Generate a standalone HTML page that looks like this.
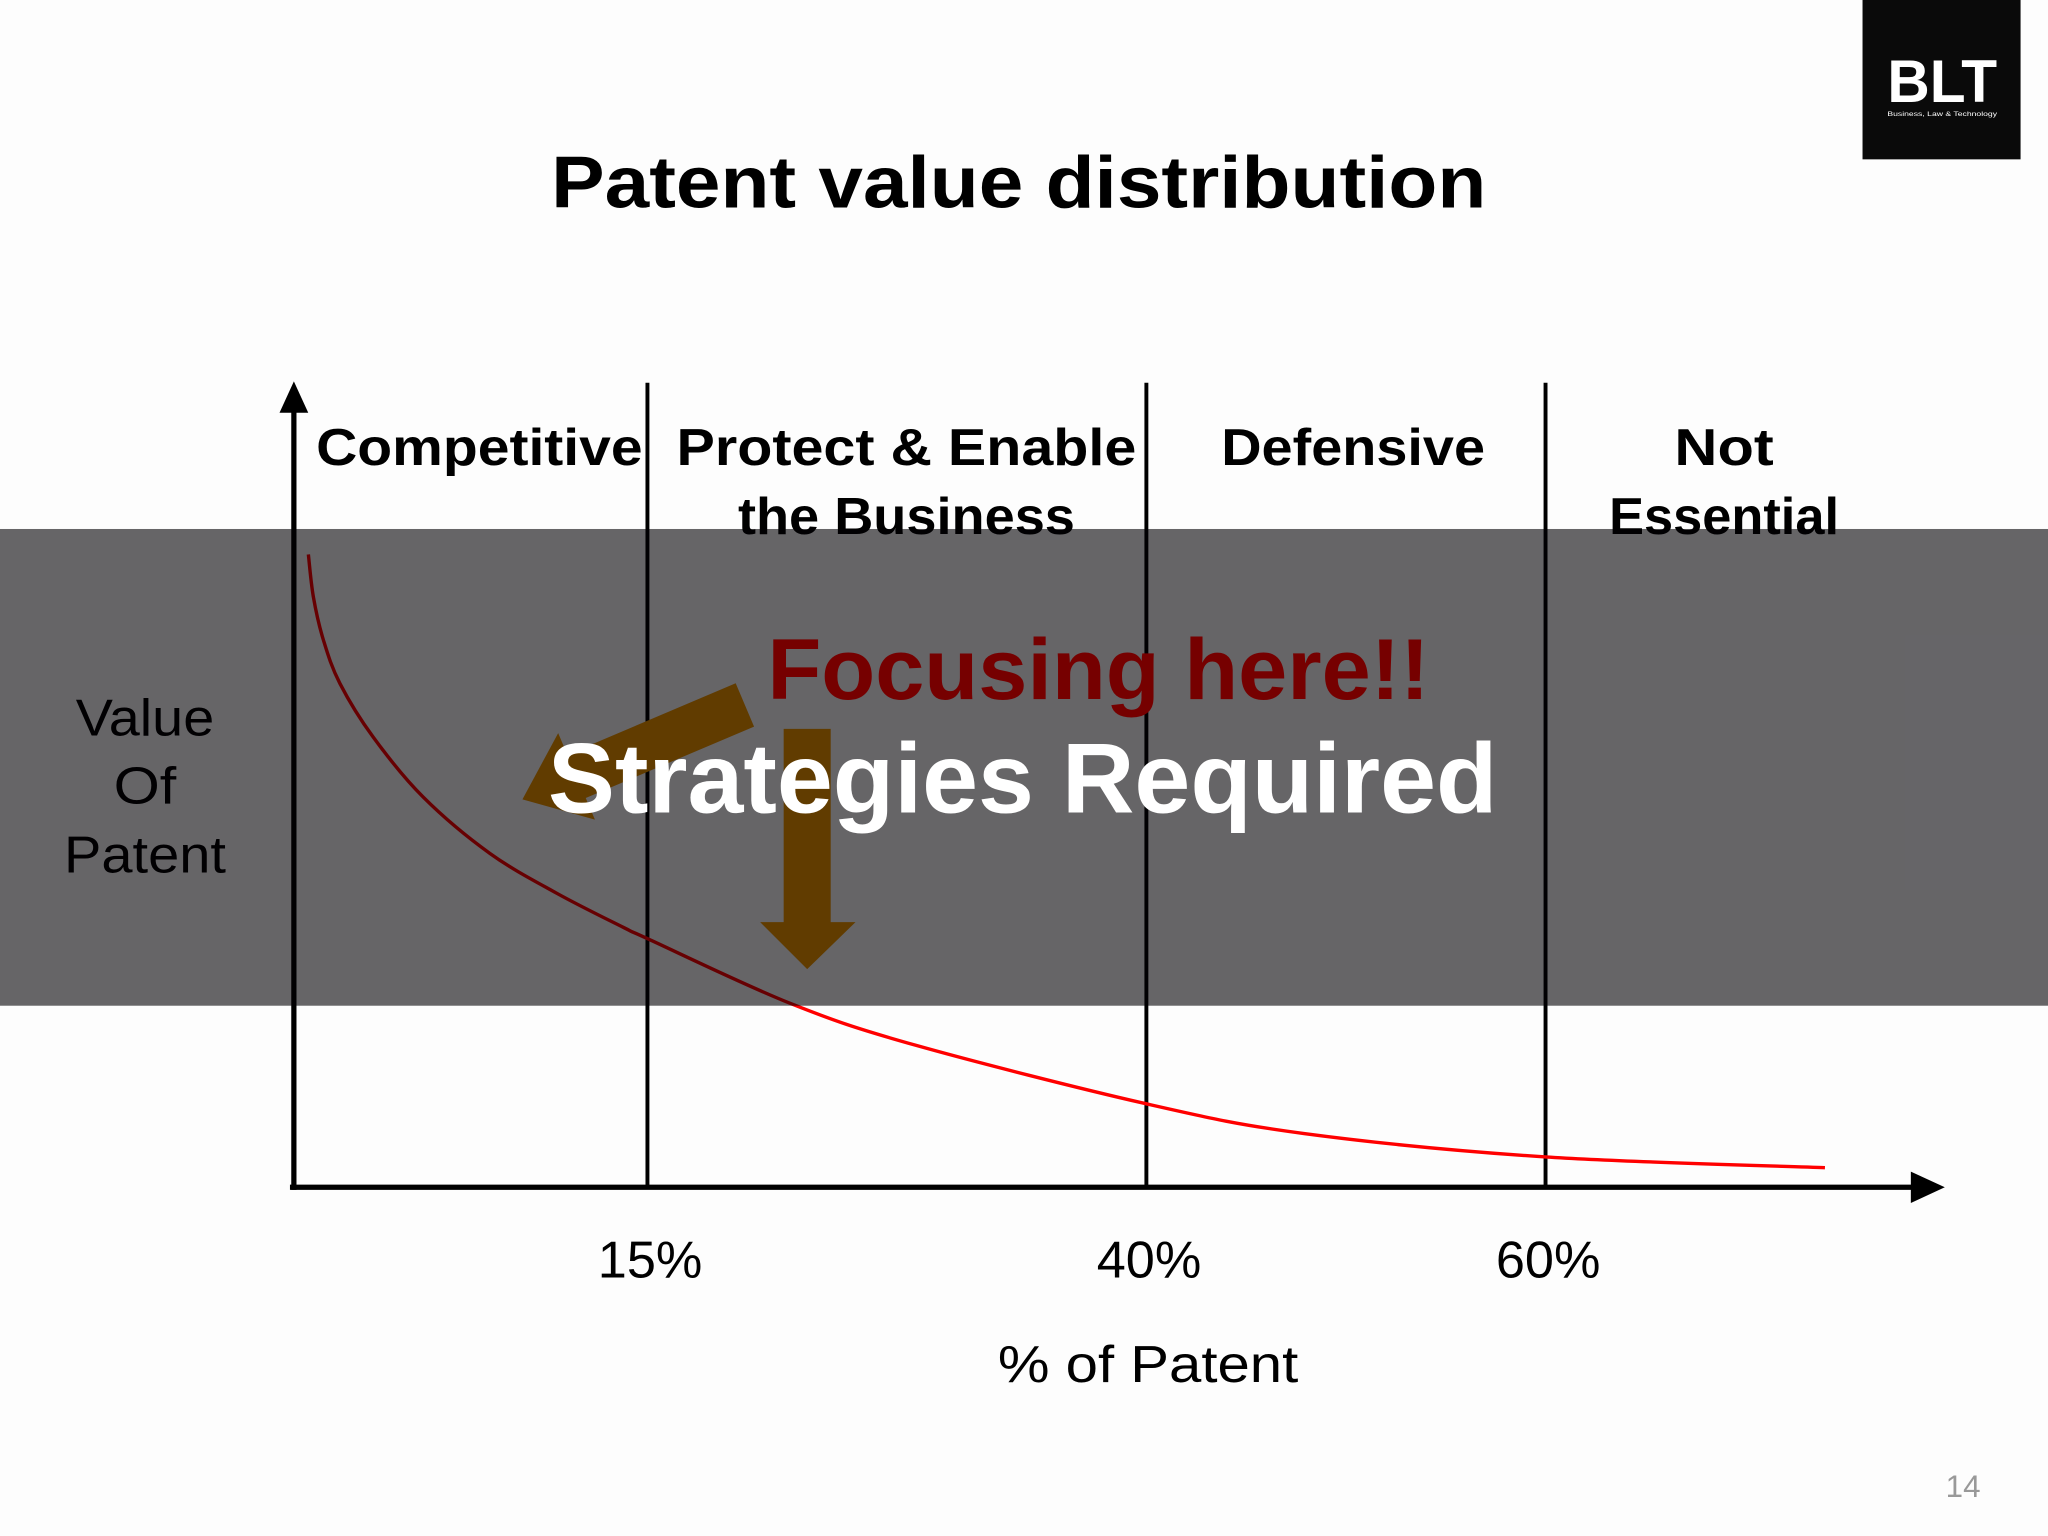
<!DOCTYPE html>
<html><head><meta charset="utf-8"><style>
html,body{margin:0;padding:0;background:#fdfdfd;}
svg{display:block;font-family:"Liberation Sans","Noto Sans CJK KR",sans-serif;}
</style></head><body>
<svg id="chart" width="2048" height="1536" viewBox="0 0 1568 1176" xmlns="http://www.w3.org/2000/svg">
<rect x="0" y="0" width="1568" height="1176" fill="#fdfdfd"/>
<g>
<rect x="1426" y="0" width="121" height="122" fill="#0a0a0a"/>
<text x="1487" y="78" text-anchor="middle" font-size="46" font-weight="bold" fill="#fff" textLength="84" lengthAdjust="spacingAndGlyphs">BLT</text>
<text x="1487" y="89" text-anchor="middle" font-size="5" fill="#fff" textLength="84" lengthAdjust="spacingAndGlyphs">Business, Law &amp; Technology</text>
</g>
<text x="780" y="159" text-anchor="middle" font-size="56" font-weight="bold" fill="#000" textLength="716" lengthAdjust="spacingAndGlyphs">Patent value distribution</text>

<g font-size="40" font-weight="bold" fill="#000" text-anchor="middle">
<text x="367" y="356" textLength="250" lengthAdjust="spacingAndGlyphs">Competitive</text>
<text x="694" y="356" textLength="352" lengthAdjust="spacingAndGlyphs">Protect &amp; Enable</text>
<text x="694" y="409" textLength="258" lengthAdjust="spacingAndGlyphs">the Business</text>
<text x="1036" y="356" textLength="202" lengthAdjust="spacingAndGlyphs">Defensive</text>
<text x="1320" y="356" textLength="76" lengthAdjust="spacingAndGlyphs">Not</text>
<text x="1320" y="409" textLength="176" lengthAdjust="spacingAndGlyphs">Essential</text>
</g>

<g id="marks"></g>

<g font-size="40" fill="#000" text-anchor="middle">
<text x="111" y="563" textLength="106" lengthAdjust="spacingAndGlyphs">Value</text>
<text x="111" y="615" textLength="48" lengthAdjust="spacingAndGlyphs">Of</text>
<text x="111" y="668" textLength="124" lengthAdjust="spacingAndGlyphs">Patent</text>
</g>
<g id="ticks" font-size="40" fill="#000" text-anchor="middle"></g>
<text x="879" y="1058" text-anchor="middle" font-size="40" fill="#000" textLength="230" lengthAdjust="spacingAndGlyphs">% of Patent</text>

<rect x="0" y="405" width="1568" height="365" fill="#020004" fill-opacity="0.6"/>

<polygon points="0,0 45,-36 45,-18 185,-18 185,18 45,18 45,36" fill="#613c00" transform="translate(400,612) rotate(-23)"/>
<polygon points="600,558 636,558 636,706 655,706 618,742 582,706 600,706" fill="#613c00"/>

<text x="841" y="535" text-anchor="middle" font-size="66" font-weight="bold" fill="#760000" textLength="507" lengthAdjust="spacingAndGlyphs">Focusing here!!</text>
<text x="783" y="622" text-anchor="middle" font-size="76" font-weight="bold" fill="#fff" textLength="727" lengthAdjust="spacingAndGlyphs">Strategies Required</text>

<text x="1503" y="1146" text-anchor="middle" font-size="24" fill="#999">14</text>

<script>
const curvePct = [-1.99, -1.74, -1.24, -0.41, 1.26, 3.77, 7.11, 10.46, 13.8, 15.02, 22.15, 28.4, 40, 47.9, 60, 74];
const curveValue = [100.1, 93.4, 86.6, 79.7, 71.2, 61.7, 52.8, 46.5, 41.1, 39.3, 29.1, 22.5, 13.2, 8.5, 4.8, 3.1];
const dividerPct = [15, 40, 60];
const tickLabels = ["15%", "40%", "60%"];

const NS = "http://www.w3.org/2000/svg";
function xScale(p){ return 266.5 + 15.28 * p; }
function yScale(v){ return 909 - 4.84 * v; }
const marks = document.getElementById('marks');
const ticks = document.getElementById('ticks');

for (let i = 0; i < dividerPct.length; i++) {
  const l = document.createElementNS(NS, 'line');
  const x = xScale(dividerPct[i]);
  l.setAttribute('x1', x); l.setAttribute('x2', x);
  l.setAttribute('y1', 293); l.setAttribute('y2', 909);
  l.setAttribute('stroke', '#000'); l.setAttribute('stroke-width', 3);
  
  
  marks.appendChild(l);
  const t = document.createElementNS(NS, 'text');
  t.setAttribute('x', x + 2); t.setAttribute('y', 978);
  t.textContent = tickLabels[i];
  
  
  ticks.appendChild(t);
}

const yAxis = document.createElementNS(NS, 'line');
yAxis.setAttribute('x1', 225); yAxis.setAttribute('x2', 225);
yAxis.setAttribute('y1', 312); yAxis.setAttribute('y2', 911);
yAxis.setAttribute('stroke', '#000'); yAxis.setAttribute('stroke-width', 4);


marks.appendChild(yAxis);
const yHead = document.createElementNS(NS, 'polygon');
yHead.setAttribute('points', '225,292 214,316 236,316');


marks.appendChild(yHead);
const xAxis = document.createElementNS(NS, 'line');
xAxis.setAttribute('x1', 222); xAxis.setAttribute('x2', 1468);
xAxis.setAttribute('y1', 909); xAxis.setAttribute('y2', 909);
xAxis.setAttribute('stroke', '#000'); xAxis.setAttribute('stroke-width', 4);


marks.appendChild(xAxis);
const xHead = document.createElementNS(NS, 'polygon');
xHead.setAttribute('points', '1489,909 1463,897 1463,921');


marks.appendChild(xHead);

const pts = curvePct.map((p, i) => [xScale(p), yScale(curveValue[i])]);
let d = 'M' + pts[0][0] + ',' + pts[0][1];
for (let i = 0; i < pts.length - 1; i++) {
  const p0 = pts[Math.max(0, i - 1)], p1 = pts[i], p2 = pts[i + 1], p3 = pts[Math.min(pts.length - 1, i + 2)];
  const c1 = [p1[0] + (p2[0] - p0[0]) / 6, p1[1] + (p2[1] - p0[1]) / 6];
  const c2 = [p2[0] - (p3[0] - p1[0]) / 6, p2[1] - (p3[1] - p1[1]) / 6];
  d += ' C' + c1[0] + ',' + c1[1] + ' ' + c2[0] + ',' + c2[1] + ' ' + p2[0] + ',' + p2[1];
}
const curve = document.createElementNS(NS, 'path');
curve.setAttribute('d', d);
curve.setAttribute('fill', 'none');
curve.setAttribute('stroke', '#ff0000');
curve.setAttribute('stroke-width', 2.6);


marks.appendChild(curve);
</script>
</svg>
</body></html>
